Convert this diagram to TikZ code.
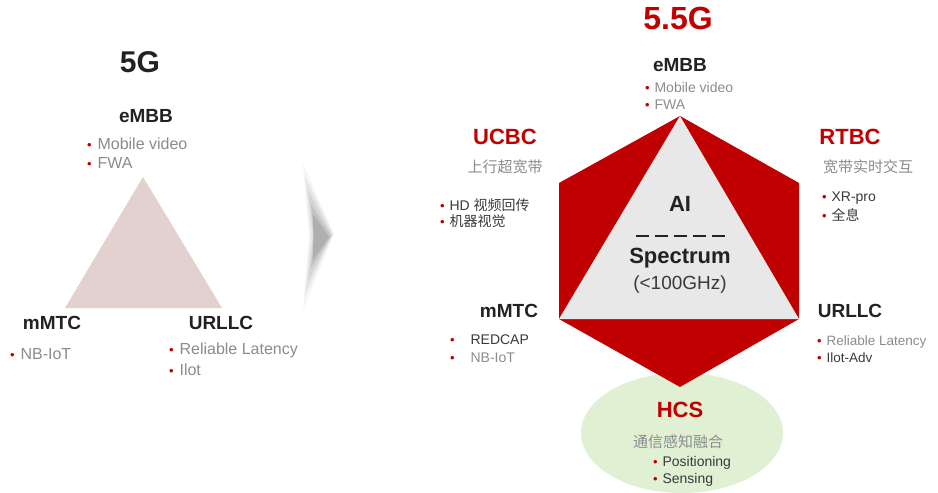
\documentclass[tikz,border=0pt]{standalone}
\usepackage{fontspec}
\setmainfont{Liberation Sans}
\newfontfamily\cjk{Noto Sans CJK SC}
\definecolor{bred}{HTML}{C00000}
\definecolor{tgray}{HTML}{8C8C8C}
\definecolor{tdark}{HTML}{3A3A3A}
\definecolor{tblack}{HTML}{222222}
\definecolor{tri5g}{HTML}{E3D1CF}
\definecolor{trigray}{HTML}{E8E8E8}
\definecolor{hcsgreen}{HTML}{DFF0D3}
\newcommand\fsz[1]{\fontsize{#1}{#1}\selectfont}
\newcommand\bul[1]{{\color{bred}\fsz{13}\textbullet}\hspace{#1}}
\begin{document}
\begin{tikzpicture}[x=1pt,y=-1pt,
  every node/.style={inner sep=0pt,outer sep=0pt},
  big/.style={font=\fsz{30}\bfseries,text=tblack},
  head/.style={font=\fsz{19}\bfseries,text=tblack},
  redhead/.style={font=\fsz{22}\bfseries,text=bred},
  itemL/.style={anchor=west,font=\fsz{16},text=tgray},
  item/.style={anchor=west,font=\fsz{14},text=tdark},
  itemg/.style={anchor=west,font=\fsz{14},text=tgray},
  cn/.style={font=\fsz{15}\cjk,text=tgray},
  core/.style={font=\fsz{22}\bfseries,text=tblack}]
\useasboundingbox (0,0) rectangle (938,493);
\fill[white] (0,0) rectangle (938,493);

% ---------- 5G ----------
\node[big] (t5g) at (140,62) {5G};
\fill[tri5g] (143,177) -- (222,308) -- (65,308) -- cycle;
\node[head] (embbL) at (146,116) {eMBB};
\node[itemL] (mvL) at (87,144) {\bul{6pt}Mobile video};
\node[itemL] (fwaL) at (87,163) {\bul{6pt}FWA};
\node[head] (mmtcL) at (52,323) {mMTC};
\node[itemL] (nbL) at (10,354) {\bul{6pt}NB-IoT};
\node[head] (urllcL) at (221,323) {URLLC};
\node[itemL] (rlL) at (169,350) {\bul{6pt}Reliable Latency};
\node[itemL] (ilotL) at (169,370) {\bul{6pt}Ilot};

% ---------- chevron ----------
\fill[gray,opacity=0.08] (303,164) -- (334,234) -- (303,310) -- (309,234) -- cycle;
\fill[gray,opacity=0.12] (305,176) -- (333,234) -- (305,296) -- (311,234) -- cycle;
\fill[gray,opacity=0.16] (308,190) -- (332,235) -- (308,282) -- (313,235) -- cycle;
\fill[gray,opacity=0.22] (311,204) -- (331,236) -- (311,268) -- (314,236) -- cycle;
\fill[gray,opacity=0.28] (313,214) -- (329,237) -- (313,260) -- cycle;

% ---------- 5.5G ----------
\node[font=\fsz{32}\bfseries,text=bred] (t55) at (678,18) {5.5G};
\fill[hcsgreen] (682,433) ellipse [x radius=101, y radius=60];
\fill[bred] (680,116) -- (799,183) -- (799,319) -- (680,387) -- (559,319) -- (559,183) -- cycle;
\fill[trigray] (680,116) -- (799,319) -- (559,319) -- cycle;

\node[head] (embbR) at (680,65) {eMBB};
\node[itemg] (mvR) at (645,87) {\bul{5pt}Mobile video};
\node[itemg] (fwaR) at (645,105) {\bul{5pt}FWA};

\node[redhead] (ucbc) at (505,137) {UCBC};
\node[cn] (ucbccn) at (505,167) {上行超宽带};
\node[item] (hd) at (440,205) {\bul{5pt}HD {\cjk 视频回传}};
\node[item] (jq) at (440,221) {\bul{5pt}{\cjk 机器视觉}};

\node[redhead] (rtbc) at (850,137) {RTBC};
\node[cn] (rtbccn) at (868,167) {宽带实时交互};
\node[item] (xr) at (822,198) {\bul{5pt}XR-pro};
\node[item] (qx) at (822,215) {\bul{5pt}{\cjk 全息}};

\node[core] (ai) at (680,204) {AI};
\coordinate (dA) at (636,236);
\coordinate (dB) at (728,236);
\draw[tblack,line width=2pt,dash pattern=on 13pt off 6pt] (dA) -- (dB);
\node[core] (spec) at (680,258) {Spectrum};
\node[font=\fsz{19},text=tdark] (ghz) at (680,285) {(<100GHz)};

\node[head] (mmtcR) at (509,311) {mMTC};
\node[item] (redcap) at (450,340) {\bul{16pt}REDCAP};
\node[itemg] (nbR) at (450,358) {\bul{16pt}NB-IoT};

\node[head] (urllcR) at (850,311) {URLLC};
\node[itemg,font=\fsz{13.5}] (rlR) at (817,342) {\bul{5pt}Reliable Latency};
\node[item,font=\fsz{13.5}] (ilotR) at (817,358) {\bul{5pt}Ilot-Adv};

\node[redhead] (hcs) at (680,410) {HCS};
\node[cn] (hcscn) at (678,442) {通信感知融合};
\node[item] (pos) at (653,463) {\bul{5pt}Positioning};
\node[item] (sens) at (653,480) {\bul{5pt}Sensing};
\end{tikzpicture}
\end{document}
